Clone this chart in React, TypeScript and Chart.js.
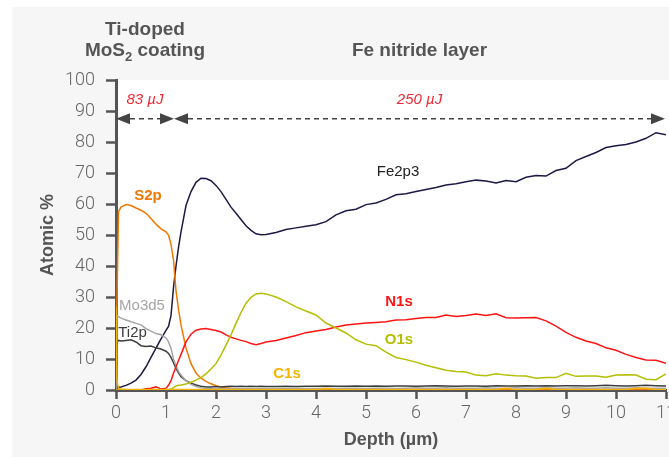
import { useEffect, useRef } from "react";
import { Chart, registerables } from "chart.js";

Chart.register(...registerables);

// Depth (µm)
const depth = [
  0, 0.02, 0.05, 0.1,
  0.2, 0.3, 0.4, 0.5, 0.6, 0.7, 0.8, 0.9, 1.0,
  1.05, 1.1, 1.15, 1.2, 1.25, 1.3,
  1.4, 1.5, 1.6, 1.7, 1.8, 1.9, 2.0, 2.1, 2.2, 2.3, 2.4, 2.5, 2.6, 2.7, 2.8, 2.9, 3.0,
  3.2, 3.4, 3.6, 3.8, 4.0, 4.2, 4.4, 4.6, 4.8, 5.0,
  5.2, 5.4, 5.6, 5.8, 6.0, 6.2, 6.4, 6.6, 6.8, 7.0,
  7.2, 7.4, 7.6, 7.8, 8.0, 8.2, 8.4, 8.6, 8.8, 9.0,
  9.2, 9.4, 9.6, 9.8, 10.0, 10.2, 10.4, 10.6, 10.8, 11.0,
];

const fe2p3 = [
  0.8, 0.8, 0.9, 1.0,
  1.5, 2.2, 3.2, 5.0, 7.5, 10.5, 13.5, 16.5, 19.2,
  20.5, 24, 33, 40, 46, 51,
  59.5, 64, 67, 68.3, 68.2, 67.5, 66, 64, 61.5, 59, 57, 55, 53, 51.5, 50.4, 50.1, 50.2,
  50.8, 51.8, 52.3, 52.8, 53.3, 54.3, 56.5, 57.8, 58.3, 59.8,
  60.3, 61.5, 63, 63.3, 64, 64.7, 65.3, 66.1, 66.5, 67.2,
  67.7, 67.4, 66.8, 67.6, 67.2, 68.6, 69.2, 69, 70.8, 71.5,
  74, 75.3, 76.6, 78.2, 78.8, 79.2, 80, 81.2, 83, 82.3,
];

const s2p = [
  0, 30, 57.5, 59,
  59.8, 59.5, 58.7, 58, 57, 55.3, 53.5, 52, 51,
  50, 47, 42, 32, 26, 21,
  13.5, 8.5, 5.5, 3.8, 2.8, 2.0, 1.4, 1.0, 0.7, 0.5, 0.4, 0.3, 0.3, 0.2, 0.3, 0.2, 0.2,
  0.2, 0.2, 0.3, 0.2, 0.2, 0.1, 0.2, 0.2, 0.3, 0.2,
  0.2, 0.2, 0.1, 0.2, 0.2, 0.3, 0.2, 0.2, 0.2, 0.1,
  0.2, 0.2, 0.2, 0.3, 0.2, 0.2, 0.2, 0.2, 0.1, 0.2,
  0.2, 0.3, 0.2, 0.2, 0.2, 0.2, 0.2, 0.1, 0.2, 0.2,
];

const mo3d5 = [
  0, 24, 23.7, 23.2,
  22.6, 22, 21.5, 21, 19.8, 19, 18.2, 17.8, 16.8,
  15.5, 13.5, 10, 7.8, 6, 4.8,
  3, 1.8, 1.1, 0.7, 0.5, 0.4, 0.4, 0.5, 0.4, 0.4, 0.5, 0.4, 0.4, 0.5, 0.4, 0.5, 0.5,
  0.5, 0.5, 0.6, 0.5, 0.5, 0.6, 0.5, 0.6, 0.6, 0.5,
  0.6, 0.6, 0.5, 0.6, 0.7, 0.6, 0.6, 0.7, 0.6, 0.6,
  0.6, 0.7, 0.6, 0.6, 0.7, 0.6, 0.6, 0.7, 0.6, 0.6,
  0.7, 0.6, 0.6, 0.7, 0.6, 0.6, 0.7, 0.6, 0.6, 0.6,
];

const ti2p = [
  0, 15.5, 16, 15.8,
  16, 16.2, 15.5, 14.3, 14, 14.2, 13.6, 13.2, 12.5,
  11.8, 10.5, 8.8, 7, 5.5, 4.3,
  3, 2.2, 1.6, 1.2, 1.0, 1.0, 1.1, 1.0, 1.1, 1.2, 1.1, 1.2, 1.1, 1.2, 1.1, 1.2, 1.1,
  1.1, 1.2, 1.1, 1.2, 1.2, 1.3, 1.2, 1.2, 1.3, 1.2,
  1.3, 1.2, 1.3, 1.3, 1.2, 1.3, 1.4, 1.3, 1.2, 1.3,
  1.3, 1.2, 1.4, 1.3, 1.3, 1.4, 1.3, 1.4, 1.3, 1.4,
  1.4, 1.3, 1.4, 1.5, 1.4, 1.3, 1.4, 1.5, 1.4, 1.3,
];

const n1s = [
  0, 0, 0, 0,
  0, 0, 0, 0, 0.4, 0.6, 1.0, 0.3, 0.6,
  1.5, 3, 5.4, 7.5, 9.5, 11.5,
  15.5, 18, 19.3, 19.7, 19.8, 19.5, 19.2, 18.7, 17.8, 17, 16.5, 16, 15.6, 15, 14.6, 15, 15.5,
  16, 16.8, 17.6, 18.5, 19, 19.5, 20.3, 21, 21.3, 21.6,
  21.8, 22, 22.6, 22.7, 23.1, 23.4, 23.4, 24.2, 23.7, 24,
  24.5, 24, 24.6, 23.3, 23.2, 23.3, 23.4, 22.3, 20.6, 18.6,
  17, 15.8, 15, 13.6, 12.8, 11.5, 10.5, 9.7, 9.6, 8.6,
];

const o1s = [
  0, 0, 0, 0,
  0, 0, 0, 0, 0, 0, 0, 0, 0,
  0.1, 0.3, 0.8, 1.3, 1.5, 1.6,
  1.9, 2.5, 3.2, 4, 5.2, 6.8, 8.5, 11.3, 14.5, 17.8, 21.5, 25, 28, 29.9, 31, 31.2, 31,
  30, 28.5, 26.8, 25.5, 24.2, 21.6, 20, 18.4, 16.2, 14.8,
  14.3, 12.2, 10.5, 9.8, 9, 8, 7.2, 6.4, 6, 5.8,
  4.8, 4.6, 5.2, 4.8, 4.6, 4.5, 3.8, 4, 4, 5.4,
  4.4, 4.5, 4.5, 4.1, 4.8, 4.9, 4.8, 3.5, 3.3, 5.2,
];

const c1s = [
  27, 3, 0.5, 0.3,
  0.2, 0.2, 0.2, 0.2, 0.2, 0.2, 0.2, 0.2, 0.2,
  0.2, 0.2, 0.2, 0.2, 0.2, 0.2,
  0.2, 0.2, 0.2, 0.2, 0.2, 0.2, 0.2, 0.2, 0.2, 0.2, 0.2, 0.2, 0.2, 0.2, 0.2, 0.2, 0.2,
  0.2, 0.2, 0.2, 0.2, 0.2, 0.5, 0.2, 0.2, 0.2, 0.2,
  0.2, 0.2, 0.2, 0.2, 0.2, 0.2, 0.2, 0.2, 0.2, 0.2,
  0.2, 0.2, 0.2, 0.6, 0.2, 0.2, 0.2, 0.6, 0.2, 0.2,
  0.2, 0.2, 0.2, 0.2, 0.2, 0.2, 0.6, 0.6, 0.2, 0.2,
];

const seriesNames = ["C1s", "O1s", "N1s", "Mo3d5", "Ti2p", "S2p", "Fe2p3"];
const seriesValues = [c1s, o1s, n1s, mo3d5, ti2p, s2p, fe2p3];
const seriesColors = ["#f5b400", "#b5be00", "#ff1414", "#a6a6a6", "#3d3d3d", "#f07800", "#1c1a45"];

// In-plot series labels: name, depth, atomic %
const labelNames = ["Fe2p3", "S2p", "Mo3d5", "Ti2p", "N1s", "O1s", "C1s"];
const labelDepth = [5.64, 0.64, 0.52, 0.33, 5.66, 5.66, 3.42];
const labelValue = [70.3, 62.6, 27.1, 18.4, 28.4, 16.1, 5.2];

// Ablation spans (µm) and energies
const spanStart = [0, 1.16];
const spanEnd = [1.16, 10.98];
const spanEnergy = ["83 µJ", "250 µJ"];
const arrowLevel = 87.5;
const energyLevel = 93.5;

const xTicks = [0, 1, 2, 3, 4, 5, 6, 7, 8, 9, 10, 11];

const SANS = '"Liberation Sans", Arial, Helvetica, sans-serif';
const LIGHT = 'Roboto, "Liberation Sans", Arial, sans-serif';
const AXIS = "#555555";

const decorPlugin = {
  id: "decor",
  beforeDraw(chart: any) {
    const { ctx, chartArea, width, height } = chart;
    ctx.save();
    ctx.fillStyle = "#ffffff";
    ctx.fillRect(0, 0, width, height);
    ctx.fillStyle = "#f6f6f6";
    ctx.fillRect(12, 7, width - 12, height - 7);
    ctx.fillStyle = "#ffffff";
    ctx.fillRect(chartArea.left, chartArea.top, width - chartArea.left, chartArea.bottom - chartArea.top);
    ctx.restore();
  },
  afterDatasetsDraw(chart: any) {
    const { ctx, chartArea } = chart;
    const xs = chart.scales.x;
    const ys = chart.scales.y;
    ctx.save();

    // dashed arrows
    const ay = ys.getPixelForValue(arrowLevel);
    const headL = 14;
    const headH = 5.5;
    for (let i = 0; i < spanStart.length; i++) {
      const x0 = xs.getPixelForValue(spanStart[i]);
      const x1 = xs.getPixelForValue(spanEnd[i]);
      ctx.fillStyle = "#444444";
      ctx.strokeStyle = "#444444";
      ctx.setLineDash([5, 4]);
      ctx.lineWidth = 1.5;
      ctx.beginPath();
      ctx.moveTo(x0 + headL, ay);
      ctx.lineTo(x1 - headL, ay);
      ctx.stroke();
      ctx.setLineDash([]);
      ctx.beginPath();
      ctx.moveTo(x0, ay);
      ctx.lineTo(x0 + headL, ay - headH);
      ctx.lineTo(x0 + headL, ay + headH);
      ctx.closePath();
      ctx.fill();
      ctx.beginPath();
      ctx.moveTo(x1, ay);
      ctx.lineTo(x1 - headL, ay - headH);
      ctx.lineTo(x1 - headL, ay + headH);
      ctx.closePath();
      ctx.fill();

      // energy label
      const xm = (x0 + x1) / 2;
      ctx.fillStyle = "#ee2a35";
      ctx.font = `italic 15px ${SANS}`;
      ctx.textAlign = "center";
      ctx.textBaseline = "middle";
      ctx.fillText(spanEnergy[i], xm, ys.getPixelForValue(energyLevel));
    }

    // headers
    const xm0 = xs.getPixelForValue((spanStart[0] + spanEnd[0]) / 2);
    const xm1 = xs.getPixelForValue((spanStart[1] + spanEnd[1]) / 2);
    ctx.fillStyle = AXIS;
    ctx.textBaseline = "middle";
    ctx.textAlign = "center";
    const big = `bold 19px ${SANS}`;
    const small = `bold 13px ${SANS}`;
    ctx.font = big;
    ctx.fillText("Ti-doped", xm0, chartArea.top - 50);
    ctx.fillText("Fe nitride layer", xm1, chartArea.top - 29);
    // MoS2 coating with subscript
    const wA = ctx.measureText("MoS").width;
    const wC = ctx.measureText(" coating").width;
    ctx.font = small;
    const wB = ctx.measureText("2").width;
    let cx = xm0 - (wA + wB + wC) / 2;
    const hy = chartArea.top - 29;
    ctx.textAlign = "left";
    ctx.font = big;
    ctx.fillText("MoS", cx, hy);
    cx += wA;
    ctx.font = small;
    ctx.fillText("2", cx, hy + 6);
    cx += wB;
    ctx.font = big;
    ctx.fillText(" coating", cx, hy);

    // series labels
    ctx.textAlign = "center";
    ctx.textBaseline = "middle";
    for (let i = 0; i < labelNames.length; i++) {
      const name = labelNames[i];
      const idx = seriesNames.indexOf(name);
      let color = seriesColors[idx];
      if (name === "Fe2p3") color = "#222222";
      const bold = name === "N1s" || name === "O1s" || name === "C1s";
      ctx.fillStyle = color;
      ctx.font = `${bold ? "bold " : name === "S2p" ? "600 " : ""}15px ${SANS}`;
      ctx.fillText(name, xs.getPixelForValue(labelDepth[i]), ys.getPixelForValue(labelValue[i]));
    }
    ctx.restore();
  },
};

export default function App() {
  const ref = useRef<HTMLCanvasElement>(null);
  useEffect(() => {
    const canvas = ref.current;
    if (!canvas) return;
    const datasets = seriesNames.map((name, k) => ({
      label: name,
      data: depth.map((d, i) => ({ x: d, y: seriesValues[k][i] })),
      borderColor: seriesColors[k],
      backgroundColor: seriesColors[k],
      borderWidth: 1.5,
      pointRadius: 0,
      tension: 0,
      fill: false,
    }));
    const chart = new Chart(canvas, {
      type: "line",
      data: { datasets },
      options: {
        animation: false,
        responsive: false,
        maintainAspectRatio: false,
        layout: { padding: { left: 0, top: 80, right: 34, bottom: 0 } },
        plugins: { legend: { display: false }, tooltip: { enabled: false } },
        scales: {
          x: {
            type: "linear",
            min: 0,
            max: 11,
            afterBuildTicks: (s: any) => {
              s.ticks = xTicks.map((v) => ({ value: v }));
            },
            ticks: {
              color: "#666666",
              font: { size: 18, weight: "300", family: LIGHT },
              padding: 4,
              maxRotation: 0,
              autoSkip: false,
            },
            grid: {
              drawOnChartArea: false,
              drawTicks: true,
              tickLength: 9,
              tickColor: AXIS,
              tickWidth: 2.5,
              color: AXIS,
            },
            border: { display: true, color: AXIS, width: 3 },
            title: {
              display: true,
              text: "Depth (µm)",
              color: AXIS,
              font: { size: 18, weight: "bold", family: SANS },
              padding: { top: 0, bottom: 6 },
            },
            afterFit: (s: any) => {
              s.height = 67;
            },
          },
          y: {
            type: "linear",
            min: 0,
            max: 100,
            ticks: {
              stepSize: 10,
              color: "#666666",
              font: { size: 18, weight: "300", family: LIGHT },
              padding: 11,
            },
            grid: {
              drawOnChartArea: false,
              drawTicks: true,
              tickLength: 10,
              tickColor: AXIS,
              tickWidth: 2.5,
              color: AXIS,
            },
            border: { display: true, color: AXIS, width: 3 },
            title: {
              display: true,
              text: "Atomic %",
              color: AXIS,
              font: { size: 18, weight: "bold", family: SANS },
              padding: { top: 37, bottom: 0 },
            },
            afterFit: (s: any) => {
              s.width = 116;
            },
          },
        },
      },
      plugins: [decorPlugin],
    } as any);
    return () => chart.destroy();
  }, []);
  return (
    <div
      style={{
        position: "fixed",
        left: 0,
        top: 0,
        width: 669,
        height: 457,
        overflow: "hidden",
        background: "#ffffff",
      }}
    >
      <canvas ref={ref} width={700} height={457} style={{ display: "block" }} />
    </div>
  );
}
